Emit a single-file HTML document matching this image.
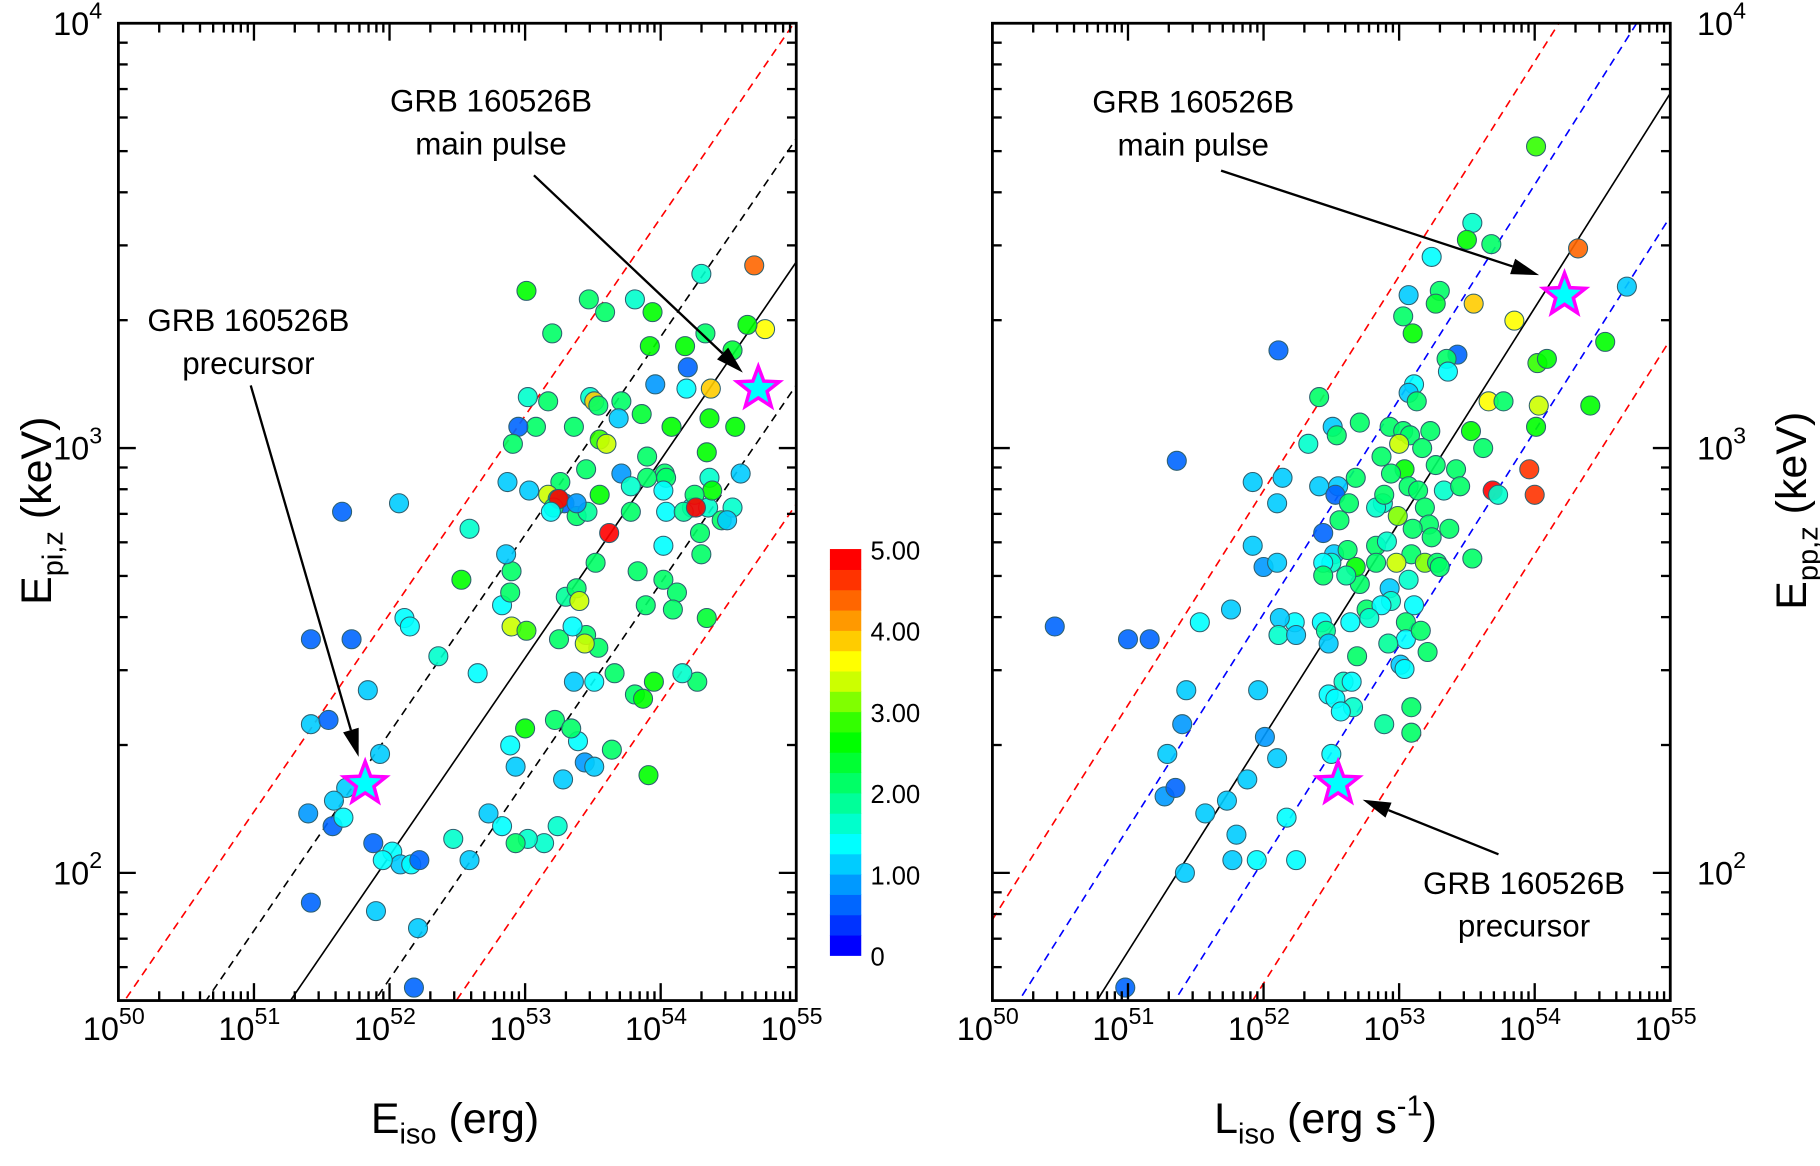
<!DOCTYPE html>
<html><head><meta charset="utf-8"><title>Epi–Eiso and Epp–Liso correlations</title>
<style>
html,body{margin:0;padding:0;background:#fff;width:1820px;height:1166px;overflow:hidden;}
svg{display:block;position:absolute;left:0;top:0;font-family:"Liberation Sans",Arial,sans-serif;}
</style></head>
<body>
<svg id="chart" width="1820" height="1166" viewBox="0 0 1568 1004.5" xmlns="http://www.w3.org/2000/svg">
<defs>
<clipPath id="clipL"><rect x="102" y="20" width="584" height="842"/></clipPath>
<clipPath id="clipR"><rect x="855" y="20" width="585" height="842"/></clipPath>
</defs>
<g id="root"></g>
</svg>
<script>
// ---- data (log10 values) ----
const xTickExps = [50, 51, 52, 53, 54, 55];
const yTickExps = [2, 3, 4];
const cbarTicks = ["0", "1.00", "2.00", "3.00", "4.00", "5.00"];
const cbarColors = ["#0000ff","#0033ff","#0066ff","#0099ff","#00ccff","#00ffff","#00ffcc","#00ff99","#00ff66","#00ff33","#00ff00","#33ff00","#80ff00","#ccff00","#ffff00","#ffcc00","#ff9900","#ff6600","#ff3300","#ff0000"];

const leftLogE = [54.69,54.30,53.01,53.81,53.47,53.59,53.94,54.77,54.33,54.64,53.20,54.18,53.92,54.53,54.20,53.48,53.17,53.02,53.71,53.51,53.54,53.86,54.37,53.96,54.19,53.69,54.08,54.55,53.08,52.95,53.36,53.55,52.91,53.60,53.90,54.34,54.36,53.45,53.71,54.03,53.26,53.90,53.78,54.04,54.36,54.59,52.87,53.17,53.29,53.24,53.03,53.21,53.55,53.25,53.38,53.46,53.19,53.38,53.62,53.78,54.23,54.35,54.45,54.53,54.04,54.17,54.49,54.38,54.25,54.02,54.26,54.02,53.83,54.02,52.90,53.52,53.89,54.29,54.30,53.30,53.38,54.12,52.53,52.83,53.40,52.90,52.89,52.59,52.86,51.65,52.07,53.25,53.45,53.54,53.44,53.35,54.09,54.34,53.66,53.95,54.27,53.36,53.51,53.81,53.87,54.16,53.01,52.11,52.15,51.42,51.72,53.00,52.89,52.93,52.36,52.65,53.22,53.39,53.34,53.44,53.28,53.64,53.51,53.91,51.42,51.93,51.84,51.68,51.55,52.73,52.47,52.59,53.24,53.14,53.02,52.93,52.83,51.40,51.59,51.58,51.88,51.66,52.02,52.08,51.95,52.16,52.22,51.42,51.90,52.21,52.18];
const leftLogEp = [3.43,3.41,3.37,3.35,3.35,3.32,3.32,3.28,3.27,3.29,3.27,3.24,3.24,3.23,3.19,3.12,3.11,3.12,3.11,3.11,3.10,3.08,3.14,3.15,3.14,3.07,3.05,3.05,3.05,3.05,3.05,3.02,3.01,3.01,2.98,2.99,3.07,2.95,2.94,2.94,2.92,2.93,2.91,2.93,2.93,2.94,2.92,2.89,2.87,2.88,2.90,2.86,2.89,2.88,2.84,2.85,2.85,2.87,2.80,2.85,2.86,2.86,2.83,2.86,2.85,2.85,2.83,2.90,2.89,2.90,2.86,2.77,2.71,2.69,2.71,2.73,2.63,2.80,2.75,2.65,2.67,2.66,2.69,2.63,2.64,2.58,2.66,2.81,2.75,2.85,2.87,2.55,2.56,2.53,2.54,2.58,2.62,2.60,2.47,2.45,2.45,2.45,2.45,2.42,2.41,2.47,2.57,2.60,2.58,2.55,2.55,2.34,2.30,2.25,2.51,2.47,2.36,2.31,2.34,2.26,2.22,2.29,2.25,2.23,2.35,2.28,2.43,2.20,2.36,2.14,2.08,2.03,2.11,2.07,2.08,2.07,2.11,2.14,2.17,2.11,2.07,2.13,2.05,2.02,2.03,2.02,2.03,1.93,1.91,1.87,1.73];
const leftZ = [4.4,1.6,2.5,1.6,2.0,2.0,2.5,3.6,2.0,2.6,2.2,2.6,2.5,2.4,0.6,1.6,2.0,1.6,2.0,3.9,2.0,2.3,3.8,0.8,1.3,1.2,2.5,2.5,2.2,0.5,2.0,2.8,2.2,3.3,2.0,2.5,2.5,2.2,0.9,2.0,2.0,2.0,1.6,2.0,1.6,1.0,1.0,3.3,0.6,2.2,1.0,2.2,2.5,4.8,2.0,1.8,1.4,0.8,4.8,2.2,1.6,1.6,2.0,1.6,1.4,1.8,1.1,2.5,2.0,1.4,4.8,1.4,2.0,2.2,2.2,2.0,2.0,2.2,2.0,1.8,2.0,2.0,2.5,1.3,3.3,3.4,2.0,1.5,1.0,0.7,1.1,2.0,2.0,2.0,3.3,1.4,2.2,2.3,2.0,2.5,2.2,1.2,1.4,2.0,2.7,1.6,2.8,1.4,1.3,0.7,0.7,2.5,1.3,1.0,1.5,1.3,2.2,1.3,2.0,0.8,1.0,2.2,1.0,2.5,1.1,1.0,1.2,1.2,0.7,1.0,1.7,1.0,1.5,1.5,1.5,2.0,1.3,0.8,1.1,0.7,0.7,1.3,1.4,1.0,1.4,1.3,0.6,0.5,1.0,1.0,0.5];

const rightLogL = [54.01,53.54,53.50,53.68,54.32,53.24,53.55,53.85,54.68,53.07,53.30,53.27,53.03,53.10,52.11,53.43,53.35,53.36,53.11,53.07,53.13,52.41,53.66,53.77,54.02,54.09,54.52,54.03,54.41,54.01,52.51,52.71,52.93,52.54,53.03,53.08,53.23,53.17,53.53,53.00,52.87,53.04,52.94,53.07,53.27,53.42,53.33,53.62,51.36,52.33,52.14,51.92,52.41,52.55,52.53,52.68,52.63,52.88,52.83,52.89,53.14,52.99,53.45,53.19,53.69,53.73,53.96,54.00,53.22,53.24,53.10,52.56,52.83,52.91,53.37,52.10,51.92,52.00,51.76,51.53,52.10,52.44,52.52,52.62,52.71,52.93,52.94,52.50,52.44,52.83,52.68,53.09,53.19,53.28,53.07,53.30,53.54,52.98,52.61,52.44,52.23,52.43,52.76,52.87,53.11,52.78,53.05,53.05,52.92,53.16,53.21,52.12,52.11,52.24,52.46,52.48,52.64,52.69,53.01,53.04,53.09,53.09,52.89,50.46,51.00,51.16,51.96,51.43,51.29,51.40,51.27,51.35,51.57,51.73,51.80,51.88,52.01,52.10,52.17,52.48,52.53,52.59,52.65,52.66,52.57,51.77,51.95,52.24,51.42,52.50,50.98];
const rightLogEp = [3.71,3.53,3.49,3.48,3.47,3.45,3.34,3.30,3.38,3.36,3.37,3.34,3.31,3.27,3.23,3.22,3.21,3.18,3.15,3.13,3.11,3.12,3.11,3.11,3.20,3.21,3.25,3.10,3.10,3.05,3.05,3.06,3.05,3.03,3.04,3.03,3.04,3.00,3.04,3.01,2.98,2.95,2.94,2.91,2.96,2.95,2.90,3.00,2.97,3.01,2.93,2.92,2.91,2.91,2.89,2.93,2.87,2.87,2.86,2.89,2.90,2.84,2.91,2.86,2.90,2.89,2.95,2.89,2.82,2.79,2.81,2.83,2.77,2.78,2.81,2.87,2.77,2.72,2.62,2.59,2.73,2.80,2.75,2.76,2.68,2.67,2.64,2.73,2.73,2.73,2.72,2.75,2.73,2.73,2.69,2.72,2.74,2.73,2.70,2.70,2.59,2.59,2.62,2.63,2.63,2.60,2.59,2.55,2.54,2.57,2.52,2.60,2.56,2.56,2.57,2.54,2.59,2.51,2.49,2.48,2.39,2.33,2.35,2.58,2.55,2.55,2.43,2.43,2.28,2.35,2.18,2.20,2.14,2.17,2.09,2.22,2.32,2.27,2.13,2.42,2.41,2.45,2.45,2.39,2.38,2.03,2.03,2.03,2.00,2.28,1.73];
const rightZ = [2.8,1.6,2.5,2.0,4.4,1.4,3.9,3.6,1.2,1.0,2.2,2.3,2.2,2.5,0.5,0.6,2.0,1.4,1.3,1.2,2.2,2.0,3.7,2.0,2.8,2.5,2.6,3.3,2.5,2.5,1.0,2.0,2.0,2.0,2.2,2.2,2.2,2.2,2.7,3.3,2.2,2.6,2.0,2.0,2.0,2.0,1.6,2.2,0.6,1.5,1.2,1.2,1.0,1.2,0.6,2.0,2.0,1.7,1.6,2.0,2.2,3.0,2.0,2.0,4.8,1.6,4.5,4.5,2.0,2.0,2.2,2.2,2.0,1.6,2.2,1.2,1.2,0.8,1.0,1.3,1.2,0.6,1.2,2.0,2.0,1.2,1.5,1.5,1.3,2.0,2.5,2.0,3.2,2.0,1.6,2.2,2.0,3.3,1.8,2.0,1.3,1.4,2.0,1.4,1.3,1.7,2.0,1.4,1.8,2.2,2.2,1.0,1.5,1.0,1.8,1.0,1.3,2.0,1.2,1.4,2.2,2.2,1.8,0.5,0.7,0.7,1.1,1.0,1.0,0.9,0.8,0.6,1.0,1.0,1.2,1.2,0.9,1.1,1.3,1.4,1.3,1.5,1.4,1.6,1.3,1.1,1.3,1.4,1.0,1.3,0.7];

// GRB 160526B stars: [logX, logY]
const leftStarsX = [51.82, 54.72];
const leftStarsY = [2.21, 3.14];
const rightStarsX = [52.55, 54.22];
const rightStarsY = [2.21, 3.36];

// correlation lines: log Ep = intercept + slope*(logX-52) + offset
const leftSlope = 0.466, leftIntercept = 2.04;
const leftOffsets = [0, 0.29, -0.29, 0.57, -0.57];
const rightSlope = 0.505, rightIntercept = 2.32;
const rightOffsets = [0, 0.29, -0.29, 0.58, -0.58];

// ---- scales ----
const NS = "http://www.w3.org/2000/svg";
const root = document.getElementById('root');
const Y0 = 20, DEC_Y = 366, Ytop = 4, plotBottom = 862;
const DEC_X = 116.8;
function yS(v){ return Y0 + (Ytop - v) * DEC_Y; }
function xSL(v){ return 102 + (v - 50) * DEC_X; }
function xSR(v){ return 855 + (v - 50) * DEC_X; }
function el(tag, attrs, parent){
  const e = document.createElementNS(NS, tag);
  for (const k in attrs) e.setAttribute(k, attrs[k]);
  (parent || root).appendChild(e);
  return e;
}
function colorOf(z){
  let i = Math.floor(z / 0.25);
  if (i < 0) i = 0; if (i > 19) i = 19;
  return cbarColors[i];
}

function drawPanel(side){
  const isL = side === 'left';
  const xs = isL ? xSL : xSR;
  const x0 = xs(50), x1 = xs(55), y0 = 20, y1 = plotBottom;
  const g = el('g', {});
  
  

  const lg = el('g', {'clip-path': 'url(#clip' + (isL ? 'L' : 'R') + ')'}, g);
  const offs = isL ? leftOffsets : rightOffsets;
  const slope = isL ? leftSlope : rightSlope, icpt = isL ? leftIntercept : rightIntercept;
  offs.forEach((o, i) => {
    const ya = icpt + slope * (50 - 52) + o, yb = icpt + slope * (55 - 52) + o;
    let col = '#000', dash = '';
    if (i === 1 || i === 2) { col = isL ? '#000' : '#0000ff'; dash = '7,5'; }
    if (i >= 3) { col = '#ff0000'; dash = '7,5'; }
    const ln = el('line', {x1: xs(50), y1: yS(ya), x2: xs(55), y2: yS(yb), stroke: col, 'stroke-width': 1.4, 'stroke-dasharray': dash}, lg);
    
    
  });

  const X = isL ? leftLogE : rightLogL, Yv = isL ? leftLogEp : rightLogEp, Z = isL ? leftZ : rightZ;
  const pg = el('g', {}, g);
  for (let i = 0; i < X.length; i++) {
    const c = el('circle', {cx: xs(X[i]), cy: yS(Yv[i]), r: 8.2, fill: colorOf(Z[i]), stroke: '#2e6070', 'stroke-width': 0.9, 'fill-opacity': 0.9}, pg);
    
    
  }
  const SX = isL ? leftStarsX : rightStarsX, SY = isL ? leftStarsY : rightStarsY;
  for (let i = 0; i < SX.length; i++) {
    const cx = xs(SX[i]), cy = yS(SY[i]);
    let pts = [];
    for (let k = 0; k < 10; k++) {
      const r = k % 2 === 0 ? 19 : 8;
      const a = -Math.PI / 2 + k * Math.PI / 5;
      pts.push((cx + r * Math.cos(a)).toFixed(1) + ',' + (cy + r * Math.sin(a)).toFixed(1));
    }
    const s = el('polygon', {points: pts.join(' '), fill: '#00ffff', stroke: '#ff00ff', 'stroke-width': 3}, g);
    
    
  }

  const fr = el('rect', {x: x0, y: y0, width: x1 - x0, height: y1 - y0, fill: 'none', stroke: '#000', 'stroke-width': 2.4}, g);
  
  

  const tg = el('g', {stroke: '#000', 'stroke-width': 2}, g);
  for (let d = 50; d < 55; d++) {
    for (let m = 1; m <= 9; m++) {
      const xv = xs(d + Math.log10(m));
      const L = m === 1 ? 15 : 8;
      if (m === 1 && d === 50) continue;
      el('line', {x1: xv, y1: y1, x2: xv, y2: y1 - L}, tg);
      el('line', {x1: xv, y1: y0, x2: xv, y2: y0 + L}, tg);
    }
  }
  for (let d = 1; d < 4; d++) {
    for (let m = 1; m <= 9; m++) {
      const v = d + Math.log10(m);
      const yv = yS(v);
      if (yv > y1 || yv <= y0 + 1) continue;
      const L = m === 1 ? 15 : 8;
      el('line', {x1: x0, y1: yv, x2: x0 + L, y2: yv}, tg);
      el('line', {x1: x1, y1: yv, x2: x1 - L, y2: yv}, tg);
    }
  }

  xTickExps.forEach(e => {
    const t = el('text', {x: xs(e) - 4, y: 896, 'font-size': 28, 'text-anchor': 'middle'}, g);
    
    
    t.innerHTML = '10<tspan dy="-14" font-size="20">' + e + '</tspan>';
  });
  yTickExps.forEach(e => {
    const tx = isL ? 88 : 1462;
    const t = el('text', {x: tx, y: yS(e) + 10, 'font-size': 28, 'text-anchor': isL ? 'end' : 'start'}, g);
    
    
    t.innerHTML = '10<tspan dy="-14" font-size="20">' + e + '</tspan>';
  });
}

drawPanel('left');
drawPanel('right');

function addText(html, attrs, name){
  const t = el('text', attrs);
  
  
  t.innerHTML = html;
  return t;
}
addText('E<tspan dy="9" font-size="25">iso</tspan><tspan dy="-9"> (erg)</tspan>', {x: 392, y: 976, 'font-size': 37, 'text-anchor': 'middle'}, 'x-axis-title-left');
addText('L<tspan dy="9" font-size="25">iso</tspan><tspan dy="-9"> (erg s</tspan><tspan dy="-15" font-size="25">-1</tspan><tspan dy="15">)</tspan>', {x: 1142, y: 976, 'font-size': 37, 'text-anchor': 'middle'}, 'x-axis-title-right');
addText('E<tspan dy="10" font-size="25">pi,z</tspan><tspan dy="-10"> (keV)</tspan>', {x: 0, y: 0, 'font-size': 37, 'text-anchor': 'middle', transform: 'translate(44,440) rotate(-90)'}, 'y-axis-title-left');
addText('E<tspan dy="10" font-size="25">pp,z</tspan><tspan dy="-10"> (keV)</tspan>', {x: 0, y: 0, 'font-size': 37, 'text-anchor': 'middle', transform: 'translate(1556,440) rotate(-90)'}, 'y-axis-title-right');

function annot(lines, x, y, name){
  lines.forEach((s, i) => addText(s, {x: x, y: y + i * 37, 'font-size': 27, 'text-anchor': 'middle'}, name));
}
function arrow(xa, ya, xb, yb, name){
  const a = Math.atan2(yb - ya, xb - xa);
  const L = 24, W = 7;
  const bx = xb - L * Math.cos(a), by = yb - L * Math.sin(a);
  const l = el('line', {x1: xa, y1: ya, x2: bx, y2: by, stroke: '#000', 'stroke-width': 2});
  
  
  const p = el('polygon', {points: xb + ',' + yb + ' ' + (bx + W * Math.sin(a)) + ',' + (by - W * Math.cos(a)) + ' ' + (bx - W * Math.sin(a)) + ',' + (by + W * Math.cos(a)), fill: '#000'});
  
  
}
annot(['GRB 160526B', 'main pulse'], 423, 96, 'main-pulse-label-left');
arrow(460, 151, 640, 321, 'main-pulse-arrow-left');
annot(['GRB 160526B', 'precursor'], 214, 285, 'precursor-label-left');
arrow(216, 332, 309, 652, 'precursor-arrow-left');
annot(['GRB 160526B', 'main pulse'], 1028, 97, 'main-pulse-label-right');
arrow(1052, 147, 1326, 237, 'main-pulse-arrow-right');
annot(['GRB 160526B', 'precursor'], 1313, 770, 'precursor-label-right');
arrow(1291, 736, 1174, 689, 'precursor-arrow-right');

const cb = el('g', {});


const cbTop = 473, cbBot = 823, cbX = 715, cbW = 27;
const bh = (cbBot - cbTop) / cbarColors.length;
cbarColors.forEach((c, i) => {
  const r = el('rect', {x: cbX, y: cbBot - (i + 1) * bh, width: cbW, height: bh + 0.5, fill: c}, cb);
  
  
});
cbarTicks.forEach((s, i) => {
  const t = el('text', {x: 750, y: cbBot - i * (cbBot - cbTop) / 5 + 9, 'font-size': 22}, cb);
  
  
  t.textContent = s;
});
</script>
</body></html>
